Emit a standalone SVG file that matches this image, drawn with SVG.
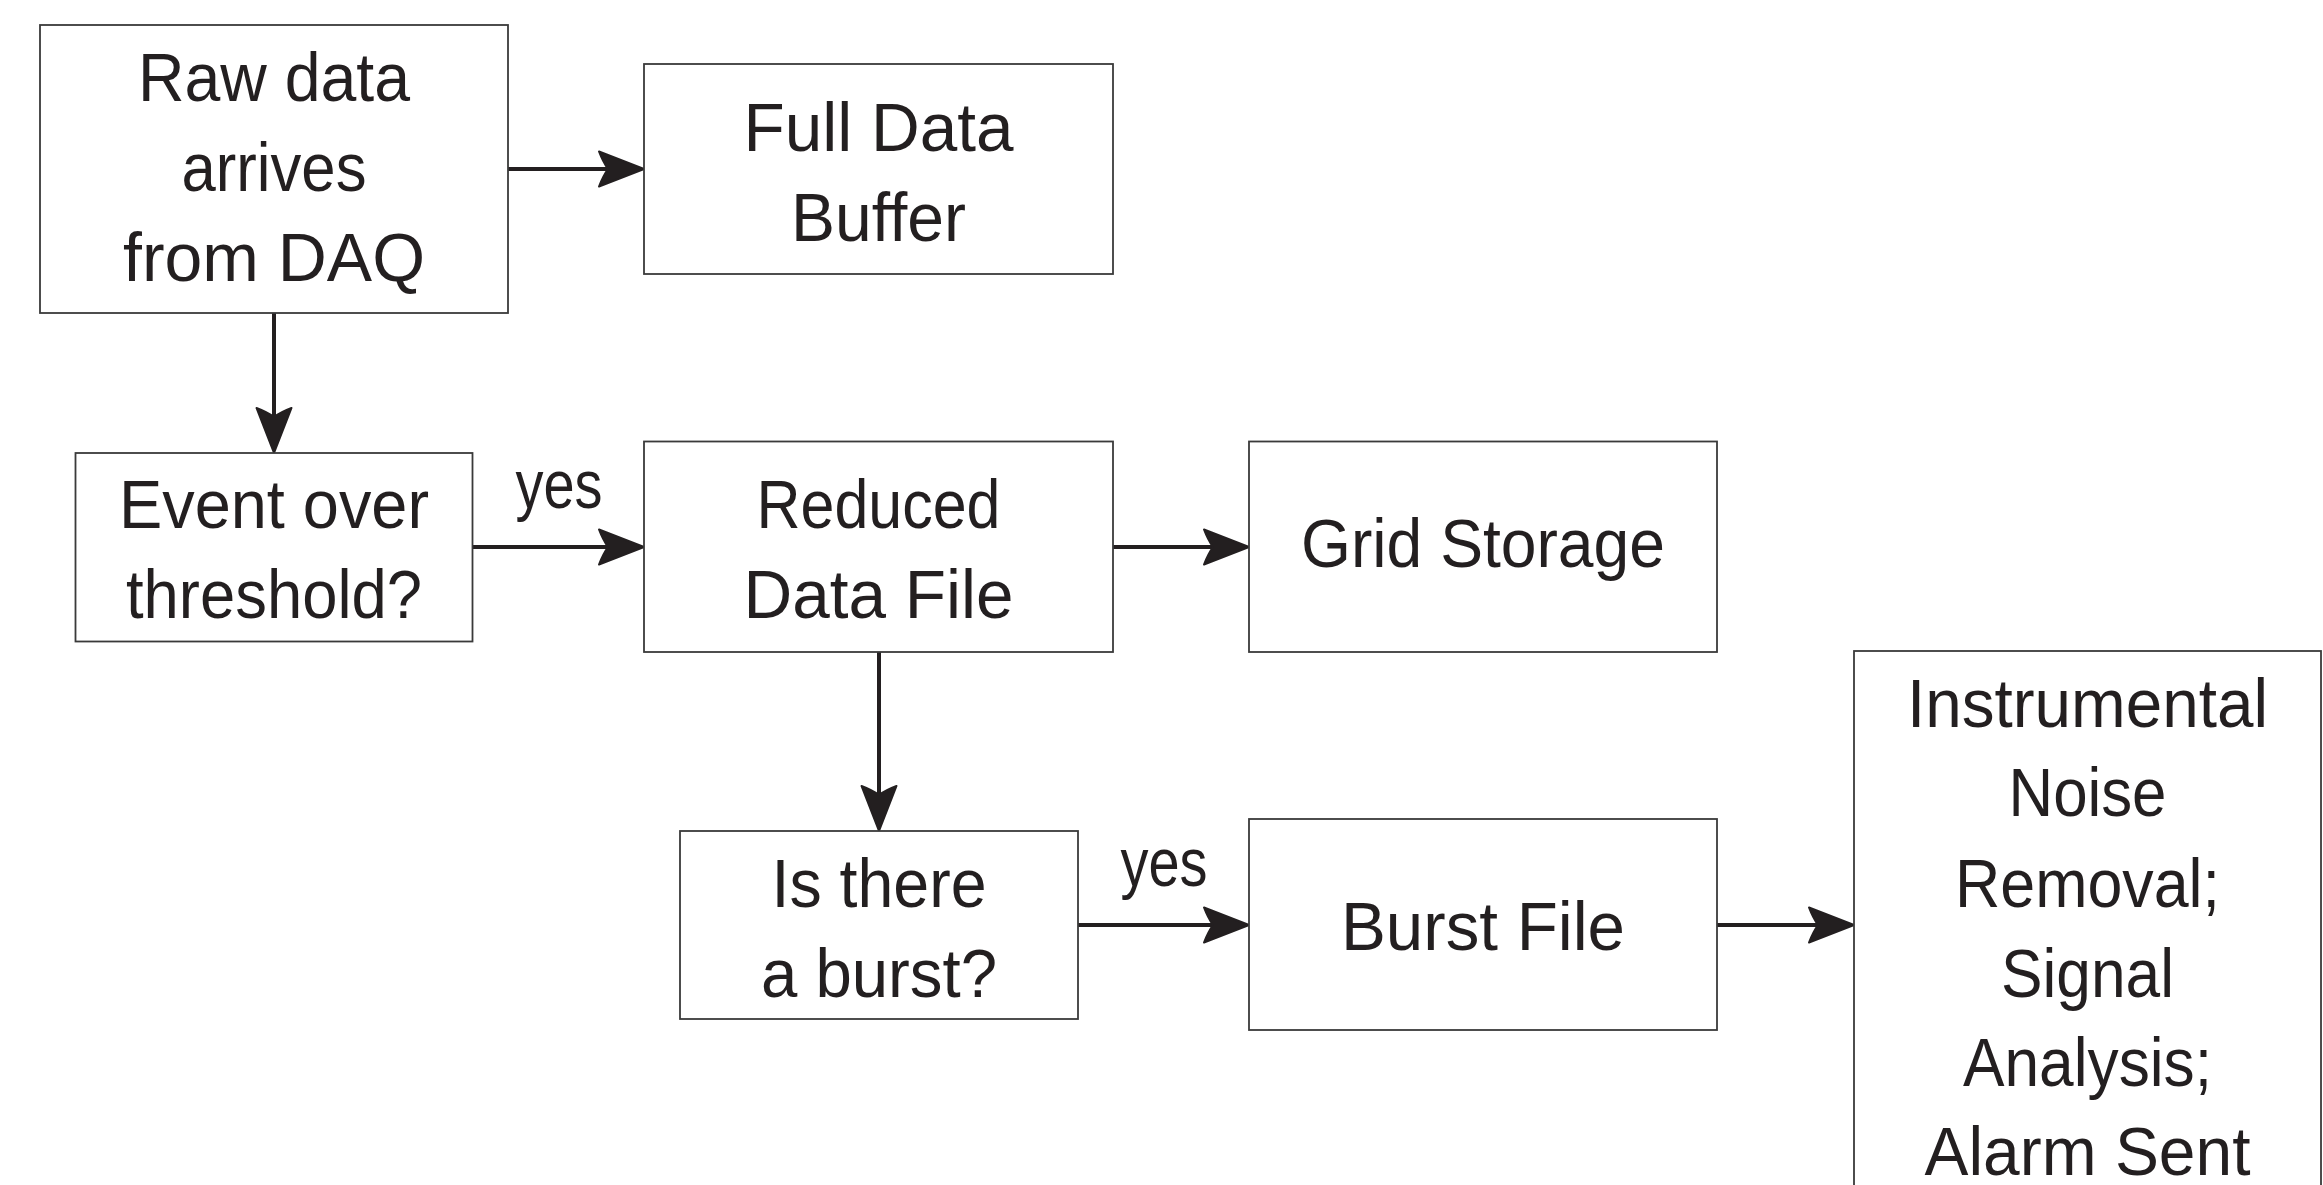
<svg xmlns="http://www.w3.org/2000/svg" width="2323" height="1185" viewBox="0 0 2323 1185">
<style>
.box{fill:#ffffff;stroke:#3a3a3a;stroke-width:1.8}
.t{font-family:"Liberation Sans",Arial,sans-serif;font-size:68px;fill:#231f20;text-anchor:middle}
.c{fill:none;stroke:#231f20;stroke-width:4}
</style>
<defs>
<marker id="ah" markerUnits="userSpaceOnUse" viewBox="-30 -20 54 40" markerWidth="54" markerHeight="40" refX="0" refY="0" orient="auto" overflow="visible">
<path d="M20,0 L-25,-17.5 Q-21,-7 -16,0 Q-21,7 -25,17.5 Z" fill="#231f20" stroke="#231f20" stroke-width="2" stroke-linejoin="round"/>
</marker>
</defs>
<rect width="2323" height="1185" fill="#ffffff"/>
<g id="connectors">
<line class="c" x1="508" y1="169" x2="624" y2="169" marker-end="url(#ah)"/>
<line class="c" x1="274" y1="313" x2="274" y2="433" marker-end="url(#ah)"/>
<line class="c" x1="473" y1="547" x2="624" y2="547" marker-end="url(#ah)"/>
<line class="c" x1="1113" y1="547" x2="1229" y2="547" marker-end="url(#ah)"/>
<line class="c" x1="879" y1="652" x2="879" y2="811" marker-end="url(#ah)"/>
<line class="c" x1="1078" y1="925" x2="1229" y2="925" marker-end="url(#ah)"/>
<line class="c" x1="1717" y1="925" x2="1834" y2="925" marker-end="url(#ah)"/>
<text class="t" x="559" y="508" textLength="87" lengthAdjust="spacingAndGlyphs">yes</text>
<text class="t" x="1164" y="886" textLength="87" lengthAdjust="spacingAndGlyphs">yes</text>
</g>
<g id="raw">
<rect class="box" x="40" y="25" width="468" height="288"/>
<text class="t" x="274" y="101" textLength="272" lengthAdjust="spacingAndGlyphs">Raw data</text>
<text class="t" x="274" y="191" textLength="185" lengthAdjust="spacingAndGlyphs">arrives</text>
<text class="t" x="274" y="281" textLength="302" lengthAdjust="spacingAndGlyphs">from DAQ</text>
</g>
<g id="fullbuffer">
<rect class="box" x="644" y="64" width="469" height="210"/>
<text class="t" x="878.5" y="151" textLength="270" lengthAdjust="spacingAndGlyphs">Full Data</text>
<text class="t" x="878.5" y="241" textLength="175" lengthAdjust="spacingAndGlyphs">Buffer</text>
</g>
<g id="threshold">
<rect class="box" x="75.5" y="453" width="397" height="188.5"/>
<text class="t" x="274" y="528" textLength="310" lengthAdjust="spacingAndGlyphs">Event over</text>
<text class="t" x="274" y="618" textLength="296" lengthAdjust="spacingAndGlyphs">threshold?</text>
</g>
<g id="reduced">
<rect class="box" x="644" y="441.5" width="469" height="210.5"/>
<text class="t" x="878.5" y="528" textLength="244" lengthAdjust="spacingAndGlyphs">Reduced</text>
<text class="t" x="878.5" y="618" textLength="270" lengthAdjust="spacingAndGlyphs">Data File</text>
</g>
<g id="grid">
<rect class="box" x="1249" y="441.5" width="468" height="210.5"/>
<text class="t" x="1483" y="567" textLength="364" lengthAdjust="spacingAndGlyphs">Grid Storage</text>
</g>
<g id="burstq">
<rect class="box" x="680" y="831" width="398" height="188"/>
<text class="t" x="879" y="907" textLength="215" lengthAdjust="spacingAndGlyphs">Is there</text>
<text class="t" x="879" y="997" textLength="236" lengthAdjust="spacingAndGlyphs">a burst?</text>
</g>
<g id="burstfile">
<rect class="box" x="1249" y="819" width="468" height="211"/>
<text class="t" x="1483" y="950" textLength="284" lengthAdjust="spacingAndGlyphs">Burst File</text>
</g>
<g id="analysis">
<rect class="box" x="1854" y="651" width="467" height="600"/>
<text class="t" x="2087.5" y="727" textLength="361" lengthAdjust="spacingAndGlyphs">Instrumental</text>
<text class="t" x="2087.5" y="816" textLength="158" lengthAdjust="spacingAndGlyphs">Noise</text>
<text class="t" x="2087.5" y="907" textLength="265" lengthAdjust="spacingAndGlyphs">Removal;</text>
<text class="t" x="2087.5" y="997" textLength="173" lengthAdjust="spacingAndGlyphs">Signal</text>
<text class="t" x="2087.5" y="1086" textLength="249" lengthAdjust="spacingAndGlyphs">Analysis;</text>
<text class="t" x="2087.5" y="1175" textLength="326" lengthAdjust="spacingAndGlyphs">Alarm Sent</text>
</g>
</svg>
